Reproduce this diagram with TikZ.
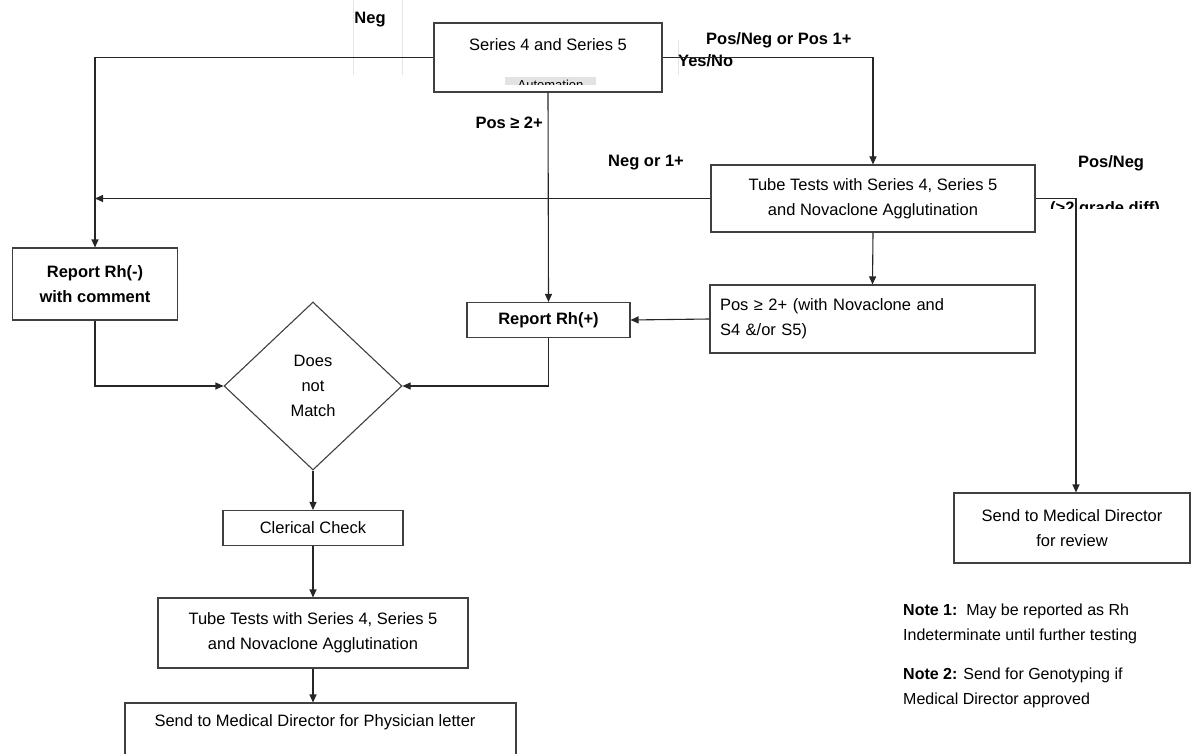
\documentclass[tikz,border=0pt]{standalone}
\usepackage{fontspec}
\setmainfont{Liberation Sans}
\usetikzlibrary{arrows.meta,shapes.geometric}
\begin{document}
\begin{tikzpicture}[x=1pt,y=-1pt]
		\tikzset{vertex/.style = {draw=black!75, line width=1.1pt, inner sep=0pt, align=center, font=\fontsize{16.5}{25}\selectfont}}
		\tikzset{boldvertex/.style = {vertex, font=\fontsize{16.5}{25}\selectfont\bfseries}}
		\tikzset{decision/.style = {vertex, diamond}}
		\tikzset{tag/.style = {inner sep=0pt, font=\fontsize{16.5}{20}\selectfont\bfseries}}
		\tikzset{note/.style = {inner sep=0pt, align=left, anchor=north west, font=\fontsize{16}{25}\selectfont}}
		\tikzset{edge/.style = {-{Triangle[length=8pt,width=7pt]}, line width=1.1pt, black!85}}
		\tikzset{ghost/.style = {gray!20, line width=0.8pt}}
		
		\clip (0,0) rectangle (1191,754);
		\fill[white] (0,0) rectangle (1191,754);
		
		\draw[ghost] (353,0) -- (353,75);
		\draw[ghost] (402,0) -- (402,75);
		\draw[ghost] (678,40) -- (678,75);
		
		\node[vertex, minimum width=228, minimum height=69] (1) at ( 548, 57.5) {};
		\node[inner sep=0pt, font=\fontsize{16.5}{25}\selectfont] (1t) at ( 548,  45) {Series 4 and Series 5};
		\node[boldvertex, minimum width=165, minimum height=72] (2) at (  95,  284) {Report Rh(-)\\with comment};
		\node[vertex, minimum width=324, minimum height=67] (3) at ( 873,198.5) {Tube Tests with Series 4, Series 5\\and Novaclone Agglutination};
		\node[vertex, minimum width=325, minimum height=68, text width=305, align=left] (4) at (872.5, 319) {Pos ≥ 2+ (with Novaclone and\\S4 \&/or S5)};
		\node[boldvertex, minimum width=163, minimum height=35] (5) at (548.5, 320) {Report Rh(+)};
		\node[decision, minimum width=178, minimum height=168] (6) at ( 313,  386) {Does\\not\\Match};
		\node[vertex, minimum width=180, minimum height=35] (7) at ( 313,  528) {Clerical Check};
		\node[vertex, minimum width=310, minimum height=70] (8) at ( 313,  633) {Tube Tests with Series 4, Series 5\\and Novaclone Agglutination};
		\node[vertex, minimum width=391, minimum height=56] (9) at (320.5, 731) {};
		\node[inner sep=0pt, font=\fontsize{16.5}{25}\selectfont] (9t) at ( 315,  722) {Send to Medical Director for Physician letter};
		\node[vertex, minimum width=236, minimum height=70] (10) at (1072,  528) {Send to Medical Director\\for review};
		
		\node[tag] (11) at ( 370,   20) {Neg};
		\node[tag, anchor=west] (12) at ( 706,   40) {Pos/Neg or Pos 1+};
		\node[tag, anchor=west] (13) at ( 678,   61) {Yes/No};
		\node[tag, anchor=east] (14) at ( 543,  123) {Pos ≥ 2+};
		\node[tag] (15) at ( 646,  163) {Neg or 1+};
		\node[tag] (16) at (1111,  163) {Pos/Neg};
		
		\node[note] (18) at ( 903,  604) {\textbf{Note 1:}\ \ May be reported as Rh\\Indeterminate until further testing};
		\node[note] (19) at ( 903,  668) {\textbf{Note 2:} Send for Genotyping if\\Medical Director approved};
		
		% half hidden texts
		\begin{scope}
		\clip (505,77) rectangle (596,85);
		\node[fill=gray!22, inner sep=0pt, minimum width=91, minimum height=16, anchor=north, font=\fontsize{13}{13}\selectfont] (1a) at (550.5,77) {Automation};
		\end{scope}
		\begin{scope}
		\clip (1045,199) rectangle (1191,209);
		\node[tag, anchor=north west] (17) at (1050,201) {(>2 grade diff)};
		\end{scope}
		
		\coordinate (c1) at (1076,198.5);
		
		\draw[edge] (1.west) -| (2.north);
		\draw[edge] (1.east) -| (3.north);
		\draw[edge] (1.south) to (5.north);
		\draw[edge] (3.west) to (3.west -| 2.north);
		\draw[edge] (3.south) to (4.north);
		\draw[edge, -] (3.east) to (c1);
		\draw[edge] (c1) to (c1 |- 10.north);
		\draw[edge] (4.west) to (5.east);
		\draw[edge] (2.south) |- (6.west);
		\draw[edge] (5.south) |- (6.east);
		\draw[edge] (6.south) to (7.north);
		\draw[edge] (7.south) to (8.north);
		\draw[edge] (8.south) to (8.south |- 9.north);
\end{tikzpicture}
\end{document}
